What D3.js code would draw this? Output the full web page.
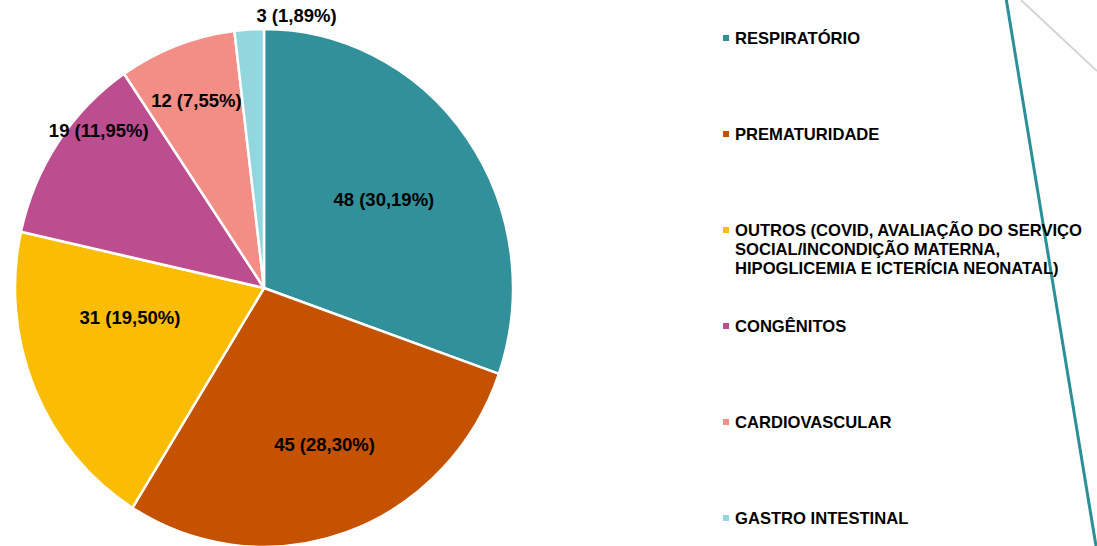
<!DOCTYPE html>
<html>
<head>
<meta charset="utf-8">
<script src="https://cdn.jsdelivr.net/npm/d3@7"></script>
<style>
  html, body { margin: 0; padding: 0; background: #fff; }
  svg { display: block; }
  text { font-family: "Liberation Sans", Arial, sans-serif; font-weight: bold; fill: #000; }
</style>
</head>
<body>
<svg id="chart" width="1097" height="546"></svg>
<script>
const categories = [
  "RESPIRATÓRIO",
  "PREMATURIDADE",
  "OUTROS (COVID, AVALIAÇÃO DO SERVIÇO|SOCIAL/INCONDIÇÃO MATERNA,|HIPOGLICEMIA E ICTERÍCIA NEONATAL)",
  "CONGÊNITOS",
  "CARDIOVASCULAR",
  "GASTRO INTESTINAL"
];
const values = [48, 45, 31, 19, 12, 3];
const percentLabels = ["30,19%", "28,30%", "19,50%", "11,95%", "7,55%", "1,89%"];
const colors = ["#31909A", "#C45200", "#FBBC04", "#BC4E8F", "#F28E85", "#92D6DE"];

// layout of the in-slice labels (radius fraction, angle offset in degrees from slice middle)
const labelLayout = [
  { r: 0.59, da: 0 },
  { r: 0.65, da: -2.6 },
  { r: 0.55, da: 11 },
  { r: 0.90, da: 8.3 },
  { r: 0.775, da: 0 },
  { r: 1.06, da: 10.5 }
];

const svg = d3.select("#chart");
const cx = 264, cy = 288, R = 249, sy = 1.04;

// decorative lines on the right
svg.append("line").attr("x1", 1021).attr("y1", 0).attr("x2", 1097).attr("y2", 71)
  .attr("stroke", "#D4D4D4").attr("stroke-width", 2);
svg.append("line").attr("x1", 1006).attr("y1", -2).attr("x2", 1096).attr("y2", 546)
  .attr("stroke", "#2A8F97").attr("stroke-width", 3);

const pie = d3.pie().sort(null).value(d => d)(values);
const arc = d3.arc().innerRadius(0).outerRadius(R);

const g = svg.append("g").attr("transform", `translate(${cx},${cy}) scale(1,${sy})`);
g.selectAll("path").data(pie).join("path")
  .attr("d", arc)
  .attr("fill", (d, i) => colors[i])
  .attr("stroke", "#fff")
  .attr("stroke-width", 2.5)
  .attr("stroke-linejoin", "round");

// labels
const lg = svg.append("g").attr("transform", `translate(${cx},${cy})`);
pie.forEach((d, i) => {
  const mid = (d.startAngle + d.endAngle) / 2 + labelLayout[i].da * Math.PI / 180;
  const r = labelLayout[i].r * R;
  const x = Math.sin(mid) * r;
  const y = -Math.cos(mid) * r * sy;
  lg.append("text")
    .attr("x", x).attr("y", y)
    .attr("dy", "0.36em")
    .attr("text-anchor", "middle")
    .attr("font-size", 18.5)
    .attr("letter-spacing", 0)
    .text(`${values[i]} (${percentLabels[i]})`);
});

// legend
const legend = svg.append("g");
categories.forEach((c, i) => {
  const y0 = 38 + i * 96;
  legend.append("rect")
    .attr("x", 723).attr("y", y0 - 3).attr("width", 6).attr("height", 6)
    .attr("fill", colors[i]);
  const lines = c.split("|");
  const t = legend.append("text")
    .attr("x", 735).attr("y", y0)
    .attr("font-size", 16.6);
  lines.forEach((ln, j) => {
    t.append("tspan").attr("x", 735).attr("dy", j === 0 ? "0.36em" : 19).text(ln);
  });
});
</script>
</body>
</html>
